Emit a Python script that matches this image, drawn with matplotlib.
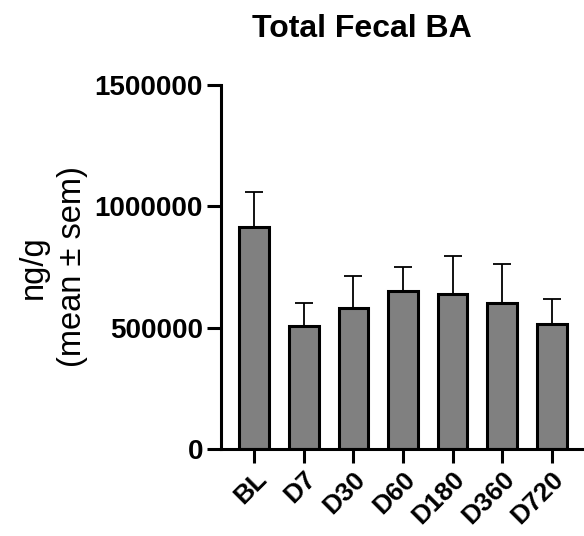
import matplotlib
matplotlib.use("Agg")
import matplotlib.pyplot as plt
import numpy as np
from matplotlib.transforms import ScaledTranslation

categories = ["BL", "D7", "D30", "D60", "D180", "D360", "D720"]
means = [914000, 506600, 580700, 650700, 639700, 600000, 513500]
sems = [143000, 96000, 133100, 97600, 156600, 163300, 103000]
ytick_values = [0, 500000, 1000000, 1500000]
ytick_labels = ["0", "500000", "1000000", "1500000"]
title = "Total Fecal BA"
ylabel = "ng/g\n(mean ± sem)"

plt.rcParams['font.family'] = ['Liberation Sans', 'DejaVu Sans']

fig = plt.figure(figsize=(5.84, 5.36), dpi=100)
W, H = 584, 536
ax = fig.add_axes([221 / W, 1 - 449 / H, (583 - 221) / W, (449 - 84.7) / H])

x = np.arange(len(categories))
lw = 2.2
ax.errorbar(x, means, yerr=[np.zeros(len(sems)), sems], fmt='none',
            ecolor='black', elinewidth=1.3, capsize=6.2, capthick=1.3, zorder=1)
ax.bar(x, means, width=0.6, color='#808080', edgecolor='black', linewidth=lw, zorder=2)

ax.set_xlim(-0.67, 6.63)
ax.set_ylim(0, 1500000)
ax.set_yticks(ytick_values)
ax.set_yticklabels(ytick_labels, fontsize=20, fontweight='bold')
ax.set_xticks(x)
ax.set_xticklabels(categories, fontsize=19, fontweight='bold', rotation=45,
                   ha='right', va='top', rotation_mode='anchor')
for lab in ax.get_xticklabels():
    lab.set_transform(lab.get_transform() + ScaledTranslation(5 / 72, -3 / 72, fig.dpi_scale_trans))

for s in ['top', 'right']:
    ax.spines[s].set_visible(False)
for s in ['left', 'bottom']:
    ax.spines[s].set_linewidth(lw)
ax.tick_params(axis='both', width=lw, length=10, direction='out', pad=3)

ax.set_ylabel(ylabel, fontsize=23.5, linespacing=1.35, multialignment='center')
ax.yaxis.set_label_coords(-0.367, 0.5)

fig.text(362 / W, 1 - 37 / H, title, fontsize=23, fontweight='bold', ha='center', va='baseline')

fig.savefig("out.png", dpi=100)
